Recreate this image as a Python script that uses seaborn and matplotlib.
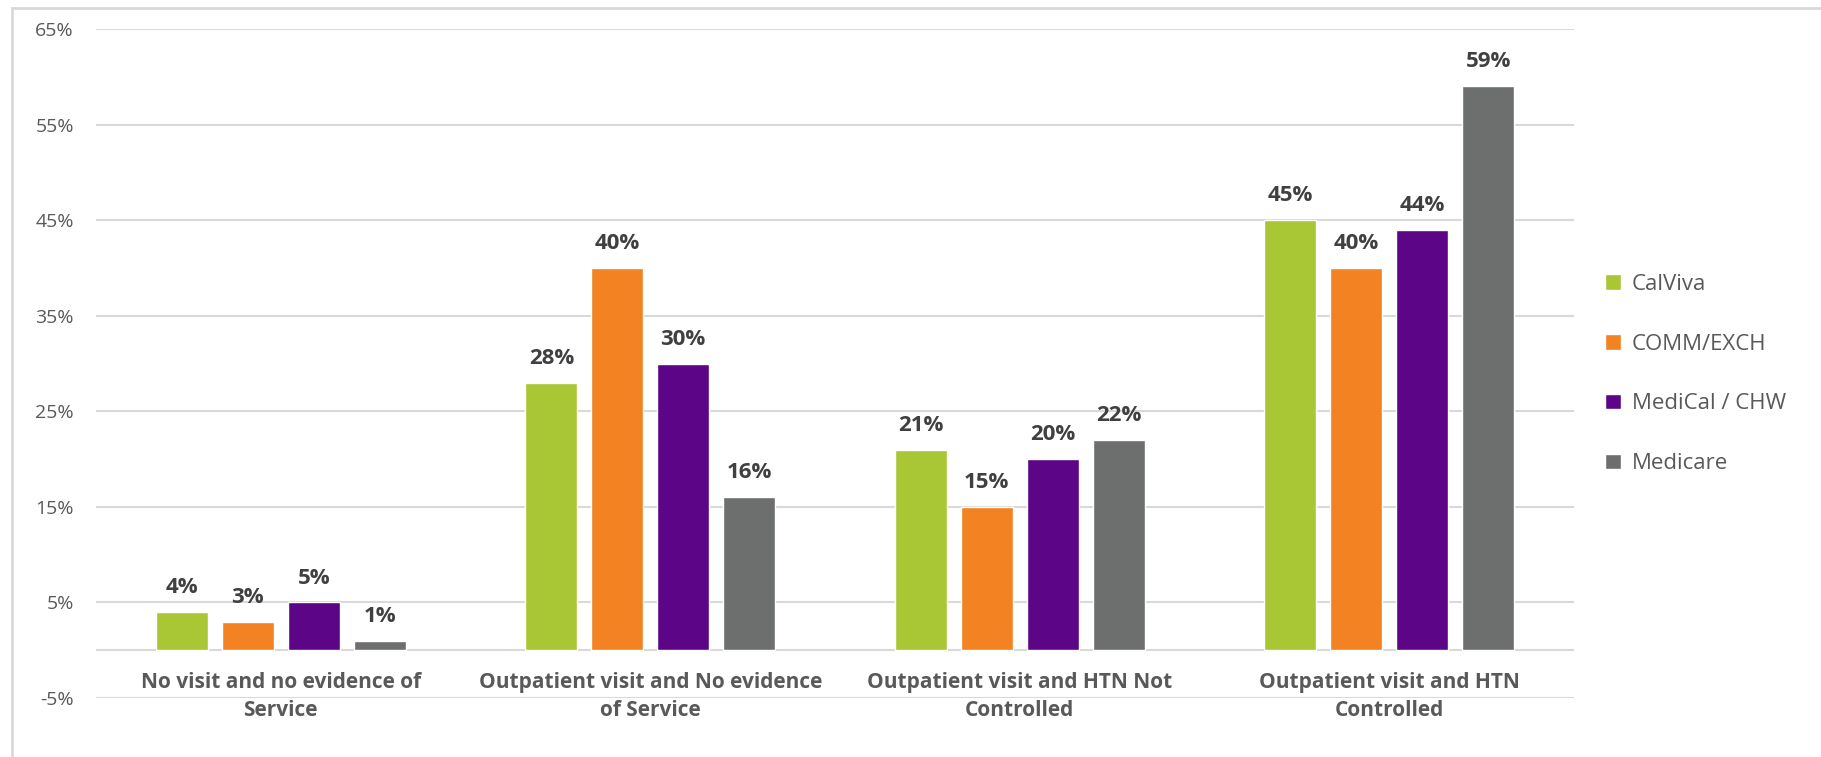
import matplotlib
matplotlib.use("Agg")
import matplotlib.pyplot as plt
import seaborn as sns
import pandas as pd
from matplotlib.patches import Rectangle

categories = ["No visit and no evidence of\nService",
              "Outpatient visit and No evidence\nof Service",
              "Outpatient visit and HTN Not\nControlled",
              "Outpatient visit and HTN\nControlled"]
series = ["CalViva", "COMM/EXCH", "MediCal / CHW", "Medicare"]
calviva = [4, 28, 21, 45]
comm_exch = [3, 40, 15, 40]
medical_chw = [5, 30, 20, 44]
medicare = [1, 16, 22, 59]
yticks = [-5, 5, 15, 25, 35, 45, 55, 65]

colors = ["#a9c734", "#f28222", "#5c0687", "#6d6e6e"]

rows = []
for s, vals in zip(series, [calviva, comm_exch, medical_chw, medicare]):
    for c, v in zip(categories, vals):
        rows.append({"category": c, "series": s, "value": v})
df = pd.DataFrame(rows)

sns.set_theme(style="white")
plt.rcParams['font.family'] = ['Open Sans', 'DejaVu Sans']

W, H = 1821, 757
fig = plt.figure(figsize=(W / 100, H / 100), dpi=100)
ax = fig.add_axes([96 / W, 1 - 698 / H, (1574 - 96) / W, (698 - 29) / H])

sns.barplot(data=df, x="category", y="value", hue="series", order=categories,
            hue_order=series, palette=colors, width=0.714, gap=0.21,
            saturation=1, ax=ax, legend=True, zorder=3)

ax.set_ylim(-5, 65)
ax.set_xlim(-0.5, 3.5)
ax.set_yticks(yticks)
ax.set_yticklabels([f"{t}%" for t in yticks], color="#595959", fontsize=14)
ax.yaxis.grid(True, color="#d9d9d9", linewidth=1.5)
ax.axhline(0, color="#d9d9d9", linewidth=1.5, zorder=2)
ax.set_axisbelow(True)
for sp in ax.spines.values():
    sp.set_visible(False)
ax.tick_params(axis="y", length=0, pad=16)
ax.tick_params(axis="x", length=0, pad=-19)
ax.set_xticks(range(len(categories)))
ax.set_xticklabels(categories, fontsize=15, fontweight="bold", color="#595959",
                   linespacing=1.45)
ax.set_xlabel("")
ax.set_ylabel("")

for cont in ax.containers:
    ax.bar_label(cont, labels=[f"{v:.0f}%" for v in cont.datavalues],
                 padding=10, fontsize=16, fontweight="bold", color="#404040")

handles, labels = ax.get_legend_handles_labels()
ax.legend(handles, labels, loc="center left", bbox_to_anchor=(1585 / W, 1 - 374 / H),
          bbox_transform=fig.transFigure, frameon=False, fontsize=16,
          labelcolor="#595959", handlelength=0.7, handleheight=0.7,
          handletextpad=0.5, labelspacing=1.75)

fig.patches.append(Rectangle((12 / W, -0.1), 1.2, 1 - 8 / H + 0.1,
                             transform=fig.transFigure, fill=False,
                             edgecolor="#d9d9d9", linewidth=2))

fig.savefig("out.png", dpi=100)
